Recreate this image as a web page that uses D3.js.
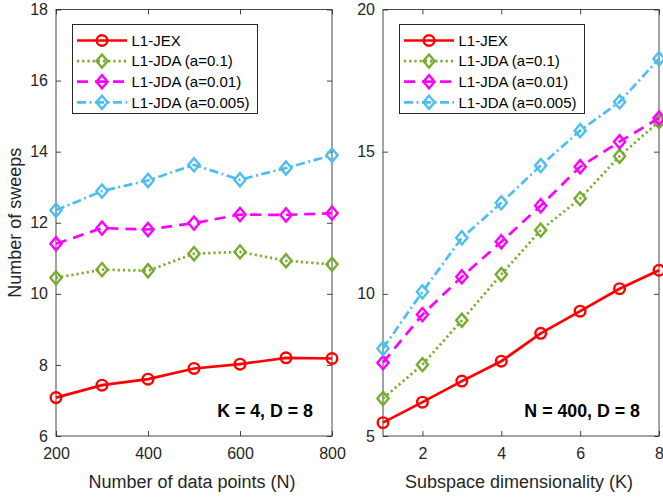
<!DOCTYPE html>
<html><head><meta charset="utf-8">
<script src="https://cdn.jsdelivr.net/npm/d3@7"></script>
<style>body{margin:0;background:#fff;} svg{display:block;font-family:"Liberation Sans",Arial,Helvetica,sans-serif;}</style>
</head><body>
<svg id="chart" width="663" height="497"></svg>
<script>
// ---------- data ----------
const seriesNames = ["L1-JEX", "L1-JDA (a=0.1)", "L1-JDA (a=0.01)", "L1-JDA (a=0.005)"];

// Left panel: K = 4, D = 8
const dataPointsN = [200, 300, 400, 500, 600, 700, 800];
const leftJEX   = [7.08, 7.43, 7.60, 7.90, 8.02, 8.20, 8.18];
const leftJDA1  = [10.45, 10.68, 10.65, 11.13, 11.18, 10.93, 10.83];
const leftJDA01 = [11.41, 11.85, 11.81, 11.99, 12.23, 12.22, 12.27];
const leftJDA005= [12.35, 12.89, 13.19, 13.63, 13.21, 13.54, 13.90];
const leftXTicks = [200, 400, 600, 800];
const leftYTicks = [6, 8, 10, 12, 14, 16, 18];

// Right panel: N = 400, D = 8
const subspaceK = [1, 2, 3, 4, 5, 6, 7, 8];
const rightJEX   = [5.47, 6.19, 6.93, 7.63, 8.61, 9.39, 10.18, 10.83];
const rightJDA1  = [6.32, 7.51, 9.07, 10.68, 12.24, 13.35, 14.84, 16.06];
const rightJDA01 = [7.58, 9.27, 10.60, 11.83, 13.10, 14.47, 15.35, 16.18];
const rightJDA005= [8.08, 10.07, 11.97, 13.20, 14.51, 15.74, 16.75, 18.27];
const rightXTicks = [2, 4, 6, 8];
const rightYTicks = [5, 10, 15, 20];

// ---------- styles ----------
const colors = ["#ff0000", "#77ac30", "#ff00ff", "#4dbeee"];
const dashes = [null, "2.2,3", "11,7", "9,3.5,2,3.5"];
const markers = ["circle", "diamond", "diamond", "diamond"];
const axisColor = "#262626";

const svg = d3.select("#chart");

function drawMarker(g, type, x, y, color) {
  if (type === "circle") {
    g.append("circle").attr("cx", x).attr("cy", y).attr("r", 5.3)
      .attr("fill", "none").attr("stroke", color).attr("stroke-width", 2.4);
  } else {
    const w = 5.6, h = 6.6;
    g.append("path")
      .attr("d", `M${x},${y-h}L${x+w},${y}L${x},${y+h}L${x-w},${y}Z`)
      .attr("fill", "none").attr("stroke", color).attr("stroke-width", 2.4)
      .attr("stroke-linejoin", "miter");
  }
}

function drawPanel(cfg) {
  const g = svg.append("g");
  const x = d3.scaleLinear().domain(cfg.xDomain).range([cfg.x0, cfg.x1]);
  const y = d3.scaleLinear().domain(cfg.yDomain).range([cfg.y1, cfg.y0]);

  // box
  g.append("rect").attr("x", cfg.x0).attr("y", cfg.y0)
    .attr("width", cfg.x1 - cfg.x0).attr("height", cfg.y1 - cfg.y0)
    .attr("fill", "#fff").attr("stroke", axisColor).attr("stroke-width", 1).attr("stroke-opacity", 0.85);

  // axes (ticks inward, mirrored)
  const tl = 5;
  const axB = d3.axisBottom(x).tickValues(cfg.xTicks).tickSize(-tl).tickPadding(11.5).tickFormat(d3.format("d"));
  const axT = d3.axisTop(x).tickValues(cfg.xTicks).tickSize(-tl).tickFormat("");
  const axL = d3.axisLeft(y).tickValues(cfg.yTicks).tickSize(-tl).tickPadding(8).tickFormat(d3.format("d"));
  const axR = d3.axisRight(y).tickValues(cfg.yTicks).tickSize(-tl).tickFormat("");
  [[axB, `translate(0,${cfg.y1})`], [axT, `translate(0,${cfg.y0})`],
   [axL, `translate(${cfg.x0},0)`], [axR, `translate(${cfg.x1},0)`]].forEach(([ax, tr]) => {
    const a = g.append("g").attr("transform", tr).call(ax);
    a.select(".domain").remove();
    a.selectAll("line").attr("stroke", axisColor).attr("stroke-opacity", 0.85);
    a.selectAll("text").attr("fill", axisColor).style("font-size", "16px")
      .style("font-family", '"Liberation Sans",Arial,sans-serif');
  });
  // nudge y tick labels slightly down (as in reference)
  g.selectAll("text").filter(function(){ return false; });

  // series
  cfg.series.forEach((vals, i) => {
    const pts = cfg.xs.map((xv, j) => [x(xv), y(vals[j])]);
    g.append("path").attr("d", d3.line()(pts)).attr("fill", "none")
      .attr("stroke", colors[i]).attr("stroke-width", 2.7)
      .attr("stroke-dasharray", dashes[i]);
    pts.forEach(p => drawMarker(g, markers[i], p[0], p[1], colors[i]));
  });

  // legend
  const lx = cfg.x0 + 16.5, ly = cfg.y0 + 15, lw = 185, lh = 89;
  const lg = g.append("g");
  lg.append("rect").attr("x", lx).attr("y", ly).attr("width", lw).attr("height", lh)
    .attr("fill", "#fff").attr("stroke", axisColor).attr("stroke-width", 1);
  seriesNames.forEach((name, i) => {
    const yy = ly + 16 + i * 20.6;
    lg.append("line").attr("x1", lx + 4.5).attr("x2", lx + 54.5).attr("y1", yy).attr("y2", yy)
      .attr("stroke", colors[i]).attr("stroke-width", 2.7).attr("stroke-dasharray", dashes[i]);
    drawMarker(lg, markers[i], lx + 29.5, yy, colors[i]);
    lg.append("text").attr("x", lx + 59).attr("y", yy + 5.2).text(name)
      .attr("fill", "#000").style("font-size", "15px");
  });

  // annotation
  g.append("text").attr("x", cfg.annX).attr("y", cfg.y1 - 19).attr("text-anchor", "end")
    .attr("font-weight", "bold").style("font-size", "17.8px").attr("fill", "#000").text(cfg.annotation);

  // x label
  g.append("text").attr("x", (cfg.x0 + cfg.x1) / 2 - 2).attr("y", 487.5).attr("text-anchor", "middle")
    .style("font-size", "18px").attr("fill", axisColor).text(cfg.xLabel);

  if (cfg.yLabel) {
    g.append("text").attr("transform", `translate(${21},${(cfg.y0 + cfg.y1) / 2}) rotate(-90)`)
      .attr("text-anchor", "middle").style("font-size", "18px").attr("fill", axisColor).text(cfg.yLabel);
  }
}

drawPanel({
  x0: 56, x1: 332, y0: 9.5, y1: 436,
  xDomain: [200, 800], yDomain: [6, 18],
  xTicks: leftXTicks, yTicks: leftYTicks,
  xs: dataPointsN,
  series: [leftJEX, leftJDA1, leftJDA01, leftJDA005],
  annotation: "K = 4, D = 8", annX: 313,
  xLabel: "Number of data points (N)",
  yLabel: "Number of sweeps"
});

drawPanel({
  x0: 383, x1: 659, y0: 9.5, y1: 436,
  xDomain: [1, 8], yDomain: [5, 20],
  xTicks: rightXTicks, yTicks: rightYTicks,
  xs: subspaceK,
  series: [rightJEX, rightJDA1, rightJDA01, rightJDA005],
  annotation: "N = 400, D = 8", annX: 640,
  xLabel: "Subspace dimensionality (K)",
  yLabel: null
});
</script>
</body></html>
